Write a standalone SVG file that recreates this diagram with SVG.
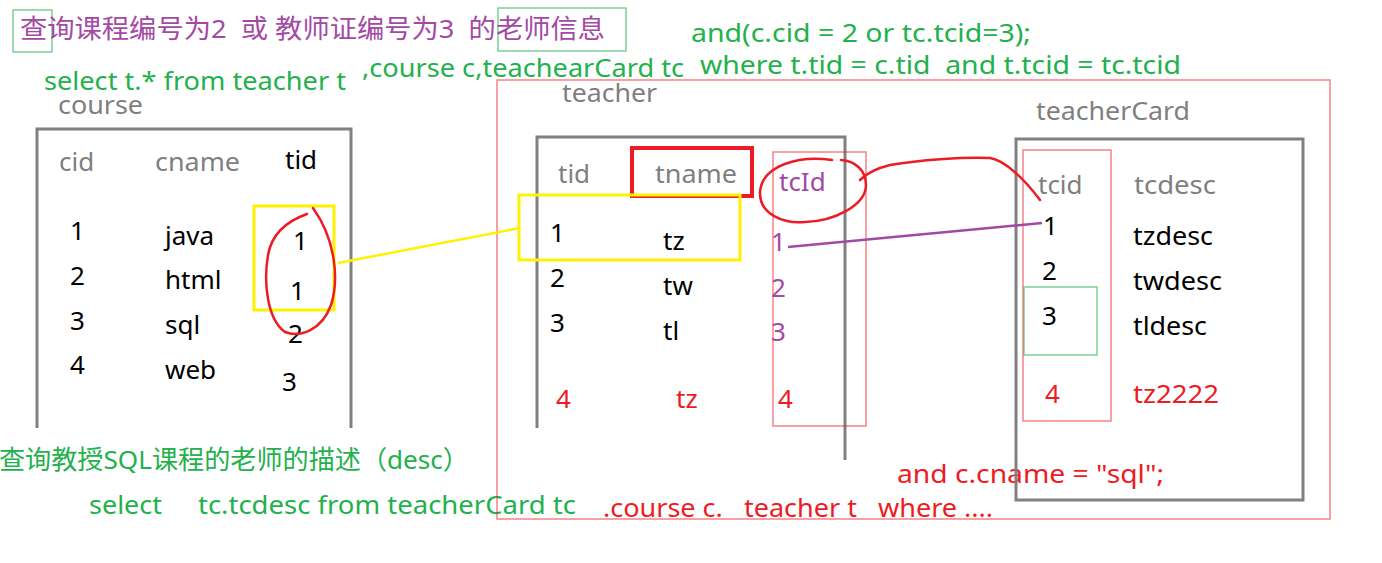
<svg xmlns="http://www.w3.org/2000/svg" width="1382" height="563" viewBox="0 0 1382 563">
<style>
text{font-family:"Noto Sans","Noto Sans CJK SC",sans-serif;font-size:26px;white-space:pre}
.g{fill:#22b14c}.p{fill:#a349a4}.r{fill:#ed1c24}.k{fill:#000}.h{fill:#7f7f7f}
.tbl{fill:none;stroke:#808080;stroke-width:3}
.thin{fill:none;stroke:#ed1c24;stroke-opacity:.55;stroke-width:1.5}
.grn{fill:none;stroke:#22b14c;stroke-opacity:.6;stroke-width:1.5}
.yel{fill:none;stroke:#fff200;stroke-width:3}
.pen{fill:none;stroke:#ed1c24;stroke-width:2.5;stroke-linecap:round}
</style>
<rect width="1382" height="563" fill="#fff"/>
<g id="sql-text">
<rect class="grn" x="13" y="10" width="39" height="42"/>
<rect class="grn" x="498" y="8" width="128" height="43"/>
<text class="p" x="20" y="38" textLength="585" lengthAdjust="spacingAndGlyphs">查询课程编号为2  或 教师证编号为3  的老师信息</text>
<text class="g" x="44" y="90" textLength="302" lengthAdjust="spacingAndGlyphs">select t.* from teacher t</text>
<text class="g" x="362" y="77" textLength="322" lengthAdjust="spacingAndGlyphs">,course c,teachearCard tc</text>
<text class="g" x="691" y="42" font-size="25" textLength="340" lengthAdjust="spacingAndGlyphs">and(c.cid = 2 or tc.tcid=3);</text>
<text class="g" x="700" y="74" font-size="25" textLength="481" lengthAdjust="spacingAndGlyphs">where t.tid = c.tid  and t.tcid = tc.tcid</text>
<text class="g" x="-1" y="469" textLength="470" lengthAdjust="spacingAndGlyphs">查询教授SQL课程的老师的描述（desc）</text>
<text class="g" x="89" y="514" textLength="73" lengthAdjust="spacingAndGlyphs">select</text>
<text class="g" x="198" y="514" textLength="378" lengthAdjust="spacingAndGlyphs">tc.tcdesc from teacherCard tc</text>
<text class="r" x="603" y="517" textLength="390" lengthAdjust="spacingAndGlyphs">.course c.   teacher t   where ....</text>
<text class="r" x="897" y="483" textLength="267" lengthAdjust="spacingAndGlyphs">and c.cname = "sql";</text>
</g>
<g id="course">
<text class="h" x="58" y="114" textLength="85" lengthAdjust="spacingAndGlyphs">course</text>
<path class="tbl" d="M37,428 V129 H351 V428"/>
<text class="h" x="59" y="171">cid</text>
<text class="h" x="155" y="171" textLength="85" lengthAdjust="spacingAndGlyphs">cname</text>
<text class="k" x="285" y="169">tid</text>
<text class="k" x="70" y="240">1</text><text class="k" x="70" y="285">2</text><text class="k" x="70" y="330">3</text><text class="k" x="70" y="374">4</text>
<text class="k" x="165" y="245">java</text><text class="k" x="165" y="289">html</text><text class="k" x="165" y="334">sql</text><text class="k" x="165" y="379">web</text>
<text class="k" x="293" y="250">1</text><text class="k" x="290" y="300">1</text><text class="k" x="288" y="343">2</text><text class="k" x="282" y="391">3</text>
<rect class="yel" x="254" y="206" width="80" height="104"/>
<path class="pen" d="M307,214 C290,220 272,232 268,255 C263,285 268,320 285,332 C300,338 322,330 331,305 C339,280 336,240 313,208"/>
</g>
<g id="teacher">
<rect class="thin" x="497" y="80" width="833" height="439"/>
<text class="h" x="562" y="102" textLength="95" lengthAdjust="spacingAndGlyphs">teacher</text>
<path class="tbl" d="M537,428 V137 H845 V460"/>
<text class="h" x="558" y="183">tid</text>
<text class="h" x="655" y="183" textLength="82" lengthAdjust="spacingAndGlyphs">tname</text>
<rect fill="none" stroke="#ed1c24" stroke-width="4" x="632" y="148" width="120" height="48"/>
<text class="p" x="779" y="191">tcId</text>
<rect class="thin" x="773" y="152" width="93" height="274"/>
<rect class="yel" x="519" y="195" width="221" height="65"/>
<text class="k" x="550" y="242">1</text><text class="k" x="550" y="287">2</text><text class="k" x="550" y="332">3</text><text class="r" x="556" y="408">4</text>
<text class="k" x="663" y="250">tz</text><text class="k" x="663" y="295">tw</text><text class="k" x="663" y="340">tl</text><text class="r" x="676" y="408">tz</text>
<text class="p" x="771" y="251">1</text><text class="p" x="771" y="297">2</text><text class="p" x="771" y="341">3</text><text class="r" x="778" y="408">4</text>
<path class="pen" d="M832,160 C800,155 762,165 760,192 C759,215 785,224 805,222 C835,221 866,205 866,185 C866,170 855,161 841,160"/>
</g>
<g id="teacherCard">
<text class="h" x="1036" y="120" textLength="154" lengthAdjust="spacingAndGlyphs">teacherCard</text>
<rect class="tbl" x="1016" y="139" width="287" height="361"/>
<rect class="thin" x="1023" y="150" width="88" height="271"/>
<rect class="grn" x="1024" y="287" width="73" height="68"/>
<text class="h" x="1038" y="194">tcid</text>
<text class="h" x="1134" y="194" textLength="82" lengthAdjust="spacingAndGlyphs">tcdesc</text>
<text class="k" x="1043" y="235">1</text><text class="k" x="1042" y="280">2</text><text class="k" x="1042" y="325">3</text><text class="r" x="1045" y="403">4</text>
<text class="k" x="1133" y="245" textLength="80" lengthAdjust="spacingAndGlyphs">tzdesc</text><text class="k" x="1133" y="290" textLength="89" lengthAdjust="spacingAndGlyphs">twdesc</text><text class="k" x="1133" y="335" textLength="74" lengthAdjust="spacingAndGlyphs">tldesc</text><text class="r" x="1133" y="403" textLength="86" lengthAdjust="spacingAndGlyphs">tz2222</text>
</g>
<g id="connectors">
<line x1="338" y1="263" x2="520" y2="228" stroke="#fff200" stroke-width="2.5"/>
<line x1="788" y1="247" x2="1042" y2="223" stroke="#a349a4" stroke-width="2.5"/>
<path class="pen" d="M860,180 C868,172 878,168 890,165 C920,160 960,157 990,158 C1005,160 1025,180 1040,200"/>
</g>
</svg>
